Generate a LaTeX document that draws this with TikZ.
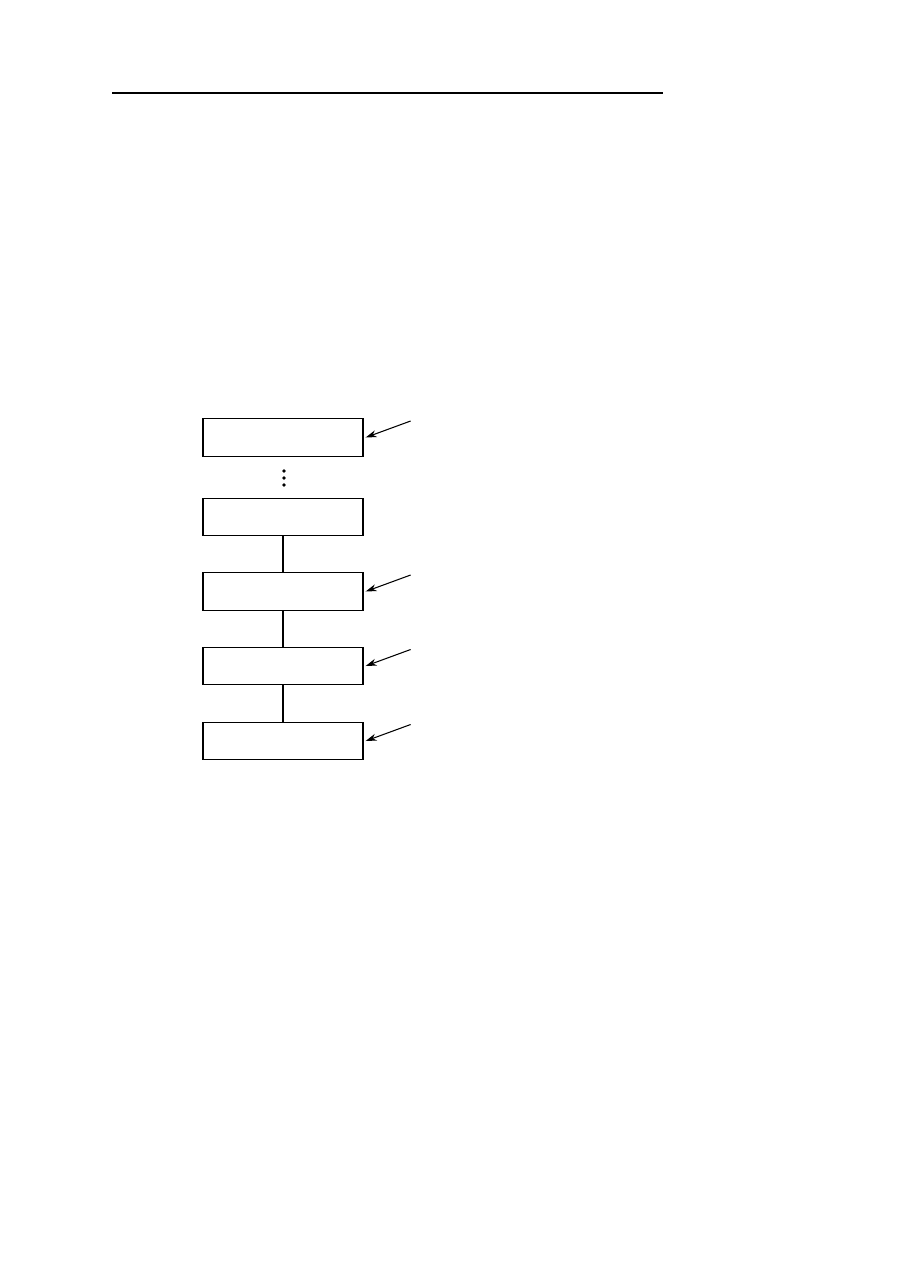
\documentclass[tikz,border=0pt]{standalone}
\usepackage{amsmath,amssymb}
\usepackage{tikz}
\usetikzlibrary{arrows.meta}

\begin{document}
\begin{tikzpicture}[box/.style={draw, line width=0.7pt, minimum width=3.2cm, minimum height=0.75cm, inner sep=0pt},
        pointer/.style={line width=0.6pt, -{Stealth[length=2.2mm, width=1.4mm]}},
        dot/.style={circle, fill, inner sep=0pt, minimum size=0.75mm}]

        \useasboundingbox (0,0) rectangle (18.06,-25.42);

        % --- Rule at the top ---
        \coordinate (L) at (2.24,-1.86);
        \coordinate (R) at (13.26,-1.86);
        \draw[line width=0.9pt] (L) -- (R);

        % --- Boxes ---
        \node[box] (B1) at (5.66,-8.75) {};
        \node[box] (B2) at (5.66,-10.34) {};
        \node[box] (B3) at (5.66,-11.83) {};
        \node[box] (B4) at (5.66,-13.32) {};
        \node[box] (B5) at (5.66,-14.82) {};

        % Dots between the first two boxes
        \foreach \y in {-9.42,-9.56,-9.70}
            \node[dot] at (5.68,\y) {};

        % Connectors
        \draw[line width=0.7pt] (B2) -- (B3);
        \draw[line width=0.7pt] (B3) -- (B4);
        \draw[line width=0.7pt] (B4) -- (B5);

        % Pointers from the right
        \foreach \b in {B1,B3,B4,B5} {
            \coordinate (P\b) at ([shift={(0.94,0.33)}]\b.east);
            \draw[pointer] (P\b) -- ([xshift=0.04cm]\b.east);
        }

\end{tikzpicture}
\end{document}
